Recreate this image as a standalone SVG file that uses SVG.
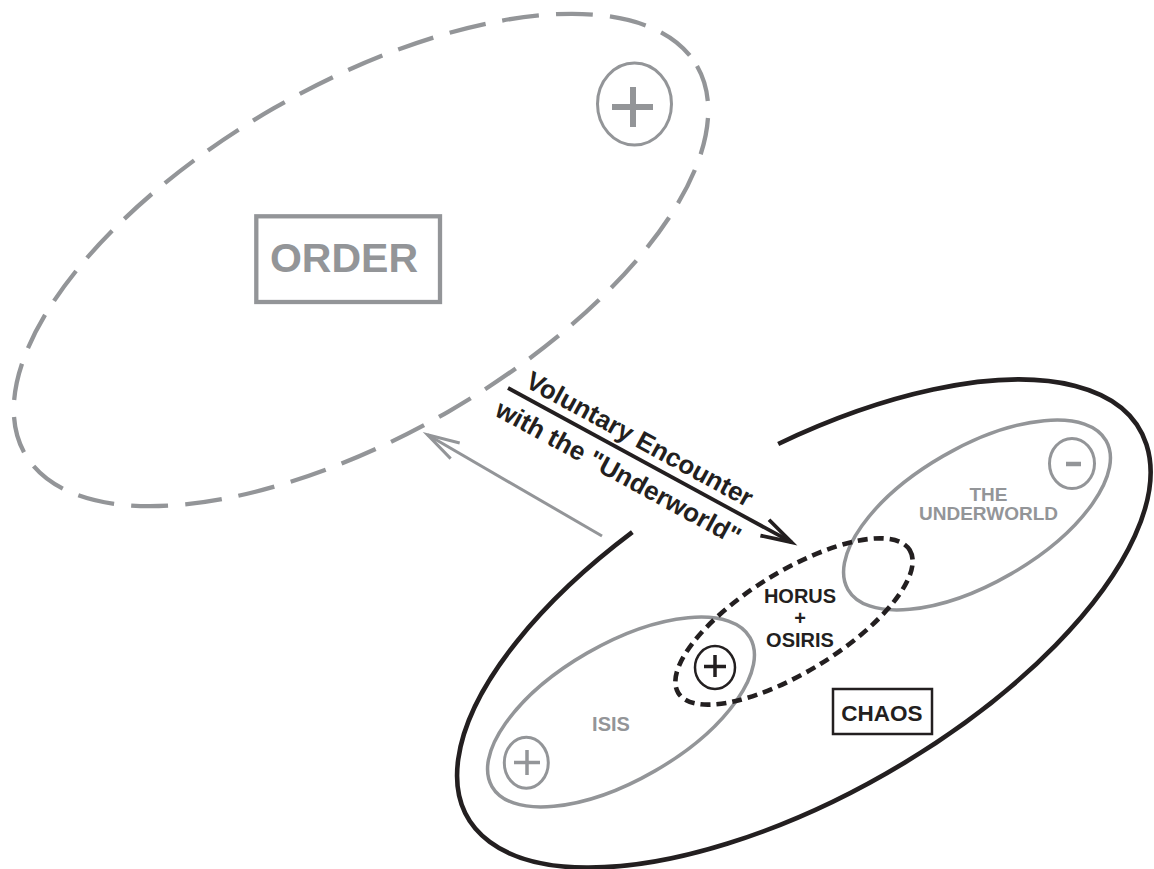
<svg xmlns="http://www.w3.org/2000/svg" width="1154" height="869" viewBox="0 0 1154 869">
<defs>
<style>
.g{fill:none;stroke:#939598}
.k{fill:none;stroke:#231f20}
.t{font-family:"Liberation Sans",Arial,Helvetica,sans-serif;font-weight:bold}
.tg{fill:#939598}
.tk{fill:#231f20}
</style>
<marker id="ak" markerUnits="userSpaceOnUse" orient="auto" refX="0" refY="0" markerWidth="40" markerHeight="30" viewBox="-36 -15 40 30" overflow="visible">
<path d="M-30.5,-9 L0,0 L-30.5,9" fill="none" stroke="#231f20" stroke-width="3.8" stroke-linejoin="miter"/>
</marker>
<marker id="ag" markerUnits="userSpaceOnUse" orient="auto" refX="0" refY="0" markerWidth="40" markerHeight="30" viewBox="-36 -15 40 30" overflow="visible">
<path d="M-32,-9 L0,0 L-32,9" fill="none" stroke="#939598" stroke-width="3" stroke-linejoin="miter"/>
</marker>
</defs>
<rect width="1154" height="869" fill="#fff"/>

<g id="order">
<ellipse cx="0" cy="0" rx="388" ry="175" transform="translate(361 260) rotate(-30)" class="g" stroke-width="4.3" stroke-dasharray="37 17"/>
<rect x="256.3" y="216.3" width="183.7" height="85.7" class="g" stroke-width="4.3"/>
<text x="344" y="272" text-anchor="middle" class="t tg" font-size="41">ORDER</text>
<ellipse cx="634.5" cy="104" rx="37" ry="41" class="g" stroke-width="3"/>
<path d="M612,107 H653 M633,87 V127" class="g" stroke-width="6"/>
</g>

<g id="chaos">
<path transform="translate(804 623.5) rotate(-30)" d="M67.4,-168.4 A388,171 0 1 1 -103,-164.9" class="k" stroke-width="4.6"/>
<rect x="833" y="689" width="99" height="45" class="k" stroke-width="2.5"/>
<text x="882" y="721" text-anchor="middle" class="t tk" font-size="22.5">CHAOS</text>
</g>

<g id="isis">
<ellipse cx="0" cy="0" rx="149" ry="68" transform="translate(621 712) rotate(-30)" class="g" stroke-width="3.5"/>
<text x="611" y="731" text-anchor="middle" class="t tg" font-size="20">ISIS</text>
<ellipse cx="526.3" cy="762.7" rx="22" ry="25.5" class="g" stroke-width="3"/>
<path d="M514,762.5 H540 M527,750 V775" class="g" stroke-width="3.5"/>
</g>

<g id="underworld">
<ellipse cx="0" cy="0" rx="149" ry="68" transform="translate(977 515) rotate(-30)" class="g" stroke-width="3.5"/>
<text x="988.5" y="500.7" text-anchor="middle" class="t tg" font-size="19">THE</text>
<text x="988.5" y="520" text-anchor="middle" class="t tg" font-size="19">UNDERWORLD</text>
<ellipse cx="1072" cy="463.5" rx="22.5" ry="25" class="g" stroke-width="3"/>
<path d="M1066,464 H1081" class="g" stroke-width="4.5"/>
</g>

<g id="horus-osiris">
<ellipse cx="0" cy="0" rx="136" ry="50" transform="translate(794 621.5) rotate(-31.7)" class="k" stroke-width="4.6" stroke-dasharray="10 6"/>
<text x="800" y="603" text-anchor="middle" class="t tk" font-size="20">HORUS</text>
<text x="800" y="625" text-anchor="middle" class="t tk" font-size="20">+</text>
<text x="800" y="647" text-anchor="middle" class="t tk" font-size="20">OSIRIS</text>
<ellipse cx="715" cy="667.5" rx="20" ry="21.5" fill="#fff" class="k" stroke-width="2.5"/>
<path d="M704,666.5 H726 M715,655 V677" class="k" stroke-width="3.5"/>
</g>

<g id="connectors">
<line x1="602" y1="536" x2="427.5" y2="434.8" class="g" stroke-width="3" marker-end="url(#ag)"/>
<line x1="508" y1="388" x2="791.5" y2="542.2" class="k" stroke-width="3.8" marker-end="url(#ak)"/>
<g transform="translate(508 388) rotate(28.54)" class="t tk" font-size="26">
<text x="13.3" y="-9.2">Voluntary Encounter</text>
<text x="0.2" y="30.5">with the "Underworld"</text>
</g>
</g>
</svg>
